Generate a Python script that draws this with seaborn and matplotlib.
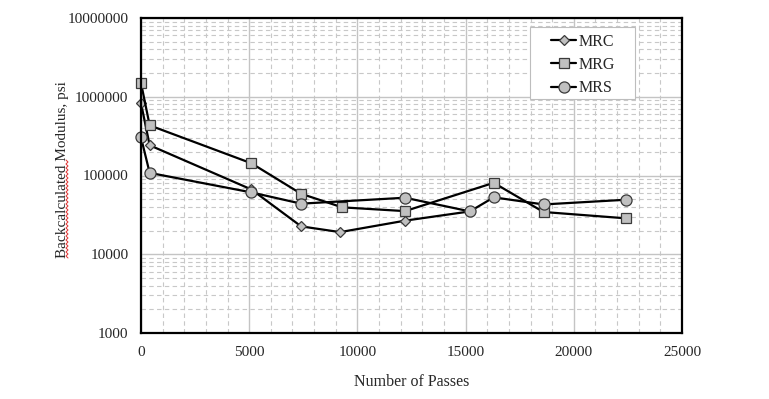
import numpy as np
import pandas as pd
import seaborn as sns
import matplotlib.pyplot as plt
from matplotlib.lines import Line2D
from matplotlib.patches import Rectangle
from matplotlib.ticker import FixedLocator, FixedFormatter, MultipleLocator, NullFormatter

# Values
mrc_passes = [0, 400, 5100, 7400, 9200, 12200, 15200]
mrc_modulus = [830000, 242000, 66500, 22600, 19100, 26700, 35000]

mrg_passes = [0, 400, 5100, 7400, 9300, 12200, 16300, 18600, 22400]
mrg_modulus = [1500000, 433000, 143000, 58600, 39400, 35300, 80700, 34400, 28600]

mrs_passes = [0, 400, 5100, 7400, 12200, 15200, 16300, 18600, 22400]
mrs_modulus = [305000, 108000, 61000, 43900, 52200, 35000, 52800, 42900, 49200]

y_ticks = [1000, 10000, 100000, 1000000, 10000000]
x_ticks = [0, 5000, 10000, 15000, 20000, 25000]


def main():
    sns.set_style("white")
    plt.rcParams["font.family"] = ["Liberation Serif", "DejaVu Serif"]

    W, H = 769, 399
    fig = plt.figure(figsize=(W / 100, H / 100), dpi=100)
    ax = fig.add_axes([141 / W, 1 - 333 / H, 541 / W, 315 / H])

    fill = "#c0c0c0"
    edge = "#3a3a3a"
    series = [
        ("MRC", mrc_passes, mrc_modulus, "D", 5.5),
        ("MRG", mrg_passes, mrg_modulus, "s", 7.5),
        ("MRS", mrs_passes, mrs_modulus, "o", 8),
    ]
    for name, xs, ys, mk, ms in series:
        df = pd.DataFrame({"passes": xs, "modulus": ys})
        sns.lineplot(data=df, x="passes", y="modulus", ax=ax, sort=False,
                     color="black", linewidth=1.6, marker=mk, markersize=ms,
                     markerfacecolor=fill, markeredgecolor=edge,
                     markeredgewidth=0.9, label=name, clip_on=False,
                     zorder=3)

    ax.set_yscale("log")
    ax.set_ylim(1000, 10000000)
    ax.set_xlim(0, 25000)

    ax.yaxis.set_major_locator(FixedLocator(y_ticks))
    ax.yaxis.set_major_formatter(FixedFormatter([str(v) for v in y_ticks]))
    ax.yaxis.set_minor_locator(FixedLocator(
        [m * 10 ** e for e in range(3, 7) for m in range(2, 10)]))
    ax.yaxis.set_minor_formatter(NullFormatter())
    ax.set_xticks(x_ticks)
    ax.set_xticklabels([str(v) for v in x_ticks])
    ax.xaxis.set_minor_locator(MultipleLocator(1000))

    # Grid lines: solid major, dashed minor
    ax.grid(which="major", color="#c4c4c4", linestyle="-", linewidth=1.0)
    ax.grid(which="minor", color="#c8c8c8", linestyle=(0, (4, 3)),
            linewidth=0.8)
    ax.set_axisbelow(True)

    for side in ["left", "right", "top", "bottom"]:
        ax.spines[side].set_color("black")
        ax.spines[side].set_linewidth(1.6)
        ax.spines[side].set_zorder(4)

    ax.tick_params(axis="both", which="major", direction="out", length=3,
                   width=0.8, color="#808080", labelsize=11, pad=6)
    ax.tick_params(axis="both", which="minor", length=0)

    ax.set_xlabel("Number of Passes", fontsize=11.5, labelpad=11)
    ax.set_ylabel("Backcalculated Modulus, psi", fontsize=11)
    ax.yaxis.set_label_coords((69 - 141) / 541, (333 - 170) / 315)

    # Legend box drawn separately to get the wide side margins
    ax.add_patch(Rectangle((530 / W, 1 - 99 / H), 105 / W, 72 / H,
                           transform=fig.transFigure, facecolor="white",
                           edgecolor="#bdbdbd", linewidth=0.8, zorder=4,
                           clip_on=False))
    ax.legend(loc="center", bbox_to_anchor=(583 / W, 1 - 65 / H),
              bbox_transform=fig.transFigure, fontsize=11.5, frameon=False,
              handlelength=1.6, handletextpad=0.15, labelspacing=0.45,
              borderpad=0)

    # Red spell-check squiggle under "Backcalculated"
    ys = np.arange(160, 259, 2.0)
    xs = np.where(np.arange(len(ys)) % 2 == 0, 66.0, 68.0)
    fig.add_artist(Line2D(xs / W, 1 - ys / H, transform=fig.transFigure,
                          color="#e03030", linewidth=0.7))

    fig.savefig("out.png", dpi=100)


if __name__ == "__main__":
    main()
